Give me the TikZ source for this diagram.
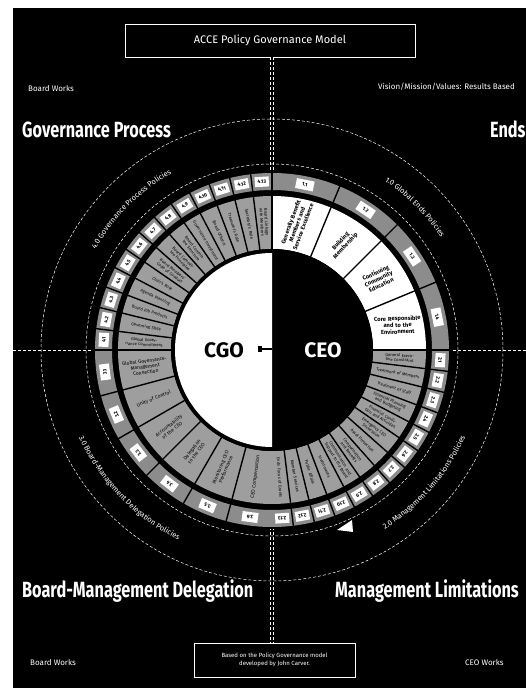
\documentclass[tikz,border=0pt]{standalone}
\usepackage{fontspec}
\setmainfont{Fira Sans}
\usetikzlibrary{decorations.text}
\definecolor{wedgegray}{gray}{0.62}
\definecolor{ringgray}{gray}{0.55}
\begin{document}
\begin{tikzpicture}[x=1pt,y=1pt,
  heading/.style={text=white, font=\fontsize{22}{22}\selectfont\bfseries, xscale=0.74, inner sep=0, anchor=base west},
  smalllabel/.style={text=white, font=\fontsize{8}{8}\selectfont, inner sep=0, anchor=base west},
  titlebox/.style={draw=white, line width=0.8, text=white, align=center},
  wtext/.style={font=\fontsize{4.2}{4.6}\selectfont, text width=46, align=center, inner sep=0},
  etext/.style={font=\fontsize{5.8}{6.6}\selectfont\bfseries, text width=50, align=center, inner sep=0},
  numbox/.style={fill=white, font=\fontsize{5}{5}\selectfont\bfseries, inner sep=0.5, minimum width=14, minimum height=10},
  sepline/.style={black, line width=1.4},
  guide/.style={white, line width=0.5, densely dashed},
]
\useasboundingbox (0,0) rectangle (526,688);
\fill[white] (0,0) rectangle (526,688);
\fill[black] (13,0) rectangle (526,680);

\coordinate (C) at (272,338);
\coordinate (hl) at (13,338);
\coordinate (hr) at (526,338);

% boxes
\node[titlebox, minimum width=290, minimum height=33, font=\fontsize{11}{11}\selectfont] (title) at (270,647.5) {ACCE Policy Governance Model};
\node[titlebox, minimum width=161, minimum height=34, font=\fontsize{6}{7.5}\selectfont] (src) at (274.5,28) {Based on the Policy Governance model\\developed by John Carver.};

% guide lines
\draw[white, line width=0.5, densely dashed, double=black, double distance=2.2pt] (title.south -| C) -- (src.north -| C);
\draw[guide] (hl) -- (hr);

\begin{scope}[shift={(272,338)}]
\draw[guide] (0,0) circle[radius=186];
\draw[guide] (0,0) circle[radius=231];

% wheel
\fill[black] (0,0) circle[radius=179];
\draw[line width=53, white] (90:127.5) arc[start angle=90, end angle=0, radius=127.5];
\draw[line width=53, wedgegray] (0:127.5) arc[start angle=0, end angle=-270, radius=127.5];
\draw[line width=17, ringgray] (0,0) circle[radius=168.5];
\fill[black] (0,0) circle[radius=101];
\fill[white] (90:97) arc[start angle=90, end angle=270, radius=97] -- cycle;

% 1. Ends
\foreach \i/\t in {1/{Generally Benefit\\Members and\\Service Excellence}, 2/{Building\\Membership}, 3/{Continuing\\Community\\Education}, 4/{Core Responsible\\and to the\\Environment}} {
  \pgfmathsetmacro\th{90-(\i-0.5)*22.5}
  \pgfmathsetmacro\ta{90-(\i-1)*22.5}
  \node[etext, rotate=\th-9] (e\i) at (\th:128) {\t};
  \node[numbox, minimum width=18, rotate=\th-90] (en\i) at (\th:168.5) {1.\i};
  \draw[sepline] (\ta:100) -- (\ta:155);
  \draw[sepline] (\ta:159) -- (\ta:178);
}

% 2. Management Limitations
\foreach \i/\t in {1/{General Executive Constraint}, 2/{Treatment of Members}, 3/{Treatment of Staff}, 4/{Financial Planning and Budgeting}, 5/{Financial Condition and Activities}, 6/{Emergency CEO Succession}, 7/{Asset Protection}, 8/{Compensation and Benefits}, 9/{Communication and Support to the Board}, 10/{Investments}, 11/{Public Affairs}, 12/{Member Services}, 13/{Ends Focus of Grants}} {
  \pgfmathsetmacro\th{-(\i-0.5)*90/13}
  \pgfmathsetmacro\ta{-(\i-1)*90/13}
  \node[wtext, rotate=\th] (m\i) at (\th:128) {\t};
  \node[numbox, rotate=\th-90] (mn\i) at (\th:168.5) {2.\i};
  \draw[sepline] (\ta:100) -- (\ta:155);
  \draw[sepline] (\ta:159) -- (\ta:178);
}

% 3. Board-Management Delegation
\foreach \i/\t in {1/{Global Governance-Management Connection}, 2/{Unity of Control}, 3/{Accountability of the CEO}, 4/{Delegation to the CEO}, 5/{Monitoring CEO Performance}, 6/{CEO Compensation}} {
  \pgfmathsetmacro\th{180+(\i-0.5)*15}
  \pgfmathsetmacro\ta{180+(\i-1)*15}
  \node[wtext, font=\fontsize{5}{5.6}\selectfont, rotate=\th-180] (d\i) at (\th:128) {\t};
  \node[numbox, minimum width=16, rotate=\th-90] (dn\i) at (\th:168.5) {3.\i};
  \draw[sepline] (\ta:100) -- (\ta:155);
  \draw[sepline] (\ta:159) -- (\ta:178);
}

% 4. Governance Process
\foreach \i/\t in {1/{Global Governance Commitment}, 2/{Governing Style}, 3/{Board Job Products}, 4/{Agenda Planning}, 5/{Chair's Role}, 6/{Board Members' Code of Conduct}, 7/{Board Committee Principles}, 8/{Board Committee Structure}, 9/{Governance Investment}, 10/{Board Officers}, 11/{Treasurer's Role}, 12/{Secretary's Role}, 13/{Board Linkage with Members}} {
  \pgfmathsetmacro\th{180-(\i-0.5)*90/13}
  \pgfmathsetmacro\ta{180-(\i-1)*90/13}
  \node[wtext, rotate=\th-180] (g\i) at (\th:128) {\t};
  \node[numbox, rotate=\th-90] (gn\i) at (\th:168.5) {4.\i};
  \draw[sepline] (\ta:100) -- (\ta:155);
  \draw[sepline] (\ta:159) -- (\ta:178);
}

% centre
\node[font=\fontsize{21}{21}\selectfont\bfseries, text=black, inner sep=0] (cgo) at (-48,0) {CGO};
\node[font=\fontsize{21}{21}\selectfont\bfseries, text=white, inner sep=0] (ceo) at (51,0) {CEO};
\coordinate (ca) at (-14,1);
\coordinate (cb) at (0,1);
\draw[black, line width=1.2] (ca) -- (cb);
\fill[black] (-14,-2) rectangle (-10,4);

% curved labels
\path[decorate, decoration={text along path, text align=center, text={|\color{white}\fontsize{7.5}{7.5}\selectfont|4.0 Governance Process Policies}}] (158:203) arc[start angle=158, end angle=112, radius=203];
\path[decorate, decoration={text along path, text align=center, text={|\color{white}\fontsize{7.5}{7.5}\selectfont|1.0 Global Ends Policies}}] (68:203) arc[start angle=68, end angle=22, radius=203];
\path[decorate, decoration={text along path, text align=center, text={|\color{white}\fontsize{7.5}{7.5}\selectfont|2.0 Management Limitations Policies}}] (-64:212) arc[start angle=-64, end angle=-18, radius=212];
\path[decorate, decoration={text along path, text align=center, text={|\color{white}\fontsize{7.5}{7.5}\selectfont|3.0 Board-Management Delegation Policies}}] (-160:212) arc[start angle=-160, end angle=-112, radius=212];
\fill[white] (80,-170) -- (65,-180) -- (81,-182) -- cycle;
\end{scope}

% headings
\node[heading] (hgp) at (22,550) {Governance Process};
\node[heading] (hends) at (490,550) {Ends};
\node[heading] (hbmd) at (22,90) {Board-Management Delegation};
\node[heading] (hml) at (335,90) {Management Limitations};

% small labels
\node[smalllabel] (ltl) at (28,596) {Board Works};
\node[smalllabel] (ltr) at (378,598) {Vision/Mission/Values: Results Based};
\node[smalllabel] (lbl) at (30,22) {Board Works};
\node[smalllabel] (lbr) at (465,22) {CEO Works};
\end{tikzpicture}
\end{document}
